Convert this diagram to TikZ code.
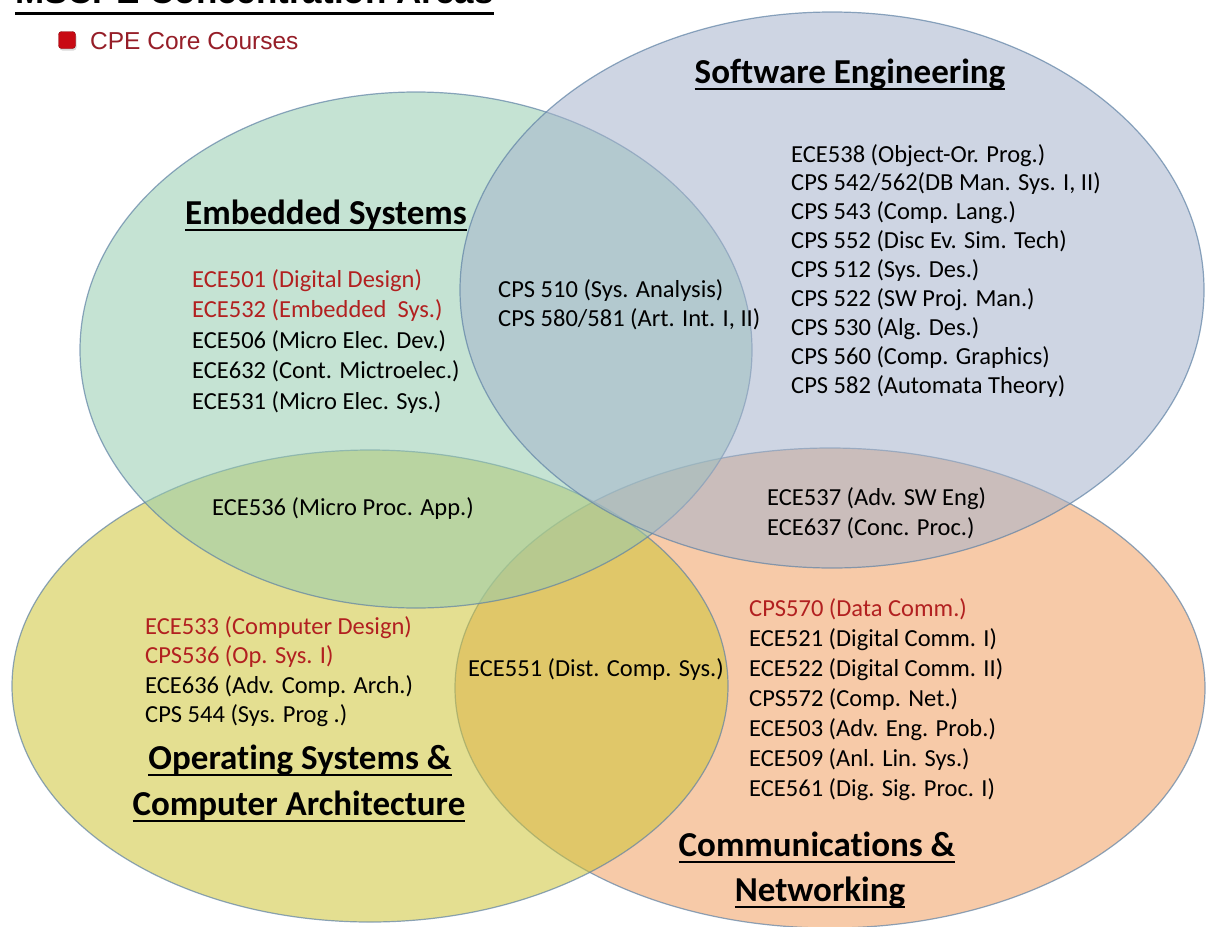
\documentclass[tikz,border=0pt]{standalone}
\usepackage{fontspec}
\setmainfont{Carlito}[Ligatures=NoCommon]
\newfontfamily\arialfont{Liberation Sans}
\usetikzlibrary{shadows}

% fills of the four areas and the edge colour
\definecolor{embfill}{RGB}{150,204,175}
\definecolor{swfill}{RGB}{166,180,204}
\definecolor{osfill}{RGB}{206,197,55}
\definecolor{cnfill}{RGB}{242,160,97}
\definecolor{edgecol}{RGB}{95,130,165}
\definecolor{corered}{RGB}{178,32,32}
\definecolor{legendred}{RGB}{150,30,40}
\definecolor{bulletred}{RGB}{200,10,20}

% text with a rule below it: #1 = depth of the rule's bottom, #2 = thickness
\newsavebox\ulbox
\newcommand\ulined[3]{\sbox\ulbox{#3}\rlap{\usebox\ulbox}\rule[-#1]{\wd\ulbox}{#2}}

\newcommand\coursefont{\fontsize{24.5}{29}\selectfont}
\newcommand\headfont{\fontsize{35}{40}\selectfont\bfseries}
\newcommand\titlefont{\arialfont\fontsize{35}{40}\selectfont\bfseries}
\newcommand\legendfont{\arialfont\fontsize{24.5}{29}\selectfont}

\begin{document}
\begin{tikzpicture}[x=1pt,y=-1pt,
  area/.style={line width=1.2pt, draw=edgecol, draw opacity=0.7, fill opacity=0.55},
  course/.style={anchor=base west, inner sep=0pt, font=\coursefont, text=black},
  core/.style={course, text=corered},
  heading/.style={anchor=base, inner sep=0pt, font=\headfont, text=black},
]
\useasboundingbox (0,0) rectangle (1206,926);
\clip (0,0) rectangle (1206,926);
\fill[white] (0,0) rectangle (1206,926);

% the four concentration areas, bottom to top
\draw[area, fill=cnfill]  (830,688) ellipse [x radius=375pt, y radius=240pt];
\draw[area, fill=osfill]  (370,686) ellipse [x radius=358pt, y radius=236pt];
\draw[area, fill=embfill] (416,350) ellipse [x radius=336pt, y radius=258pt];
\draw[area, fill=swfill]  (832,290) ellipse [x radius=372pt, y radius=278pt];

% title and legend
\node (title) [anchor=base west, inner sep=0pt, font=\titlefont] at (15,3)
  {\ulined{11.5pt}{3pt}{MSCPE Concentration Areas}};
\node (legbullet) [rectangle, rounded corners=3pt, minimum size=17pt, inner sep=0pt,
  fill=bulletred, draw=bulletred!70!black,
  drop shadow={opacity=0.3, shadow xshift=1pt, shadow yshift=-2pt}] at (67,40) {};
\node (legend) [anchor=base west, inner sep=0pt, font=\legendfont, text=legendred]
  at (90,49) {CPE Core Courses};

% headings
\node (hemb) [heading] at (326,224) {\ulined{7pt}{2pt}{Embedded Systems}};
\node (hsw)  [heading] at (850,83)  {\ulined{7pt}{2pt}{Software Engineering}};
\node (hos1) [heading] at (300,769) {\ulined{7pt}{2pt}{Operating Systems \&}};
\node (hos2) [heading] at (299,815) {\ulined{7pt}{2pt}{Computer Architecture}};
\node (hcn1) [heading] at (817,856) {\ulined{7pt}{2pt}{Communications \&}};
\node (hcn2) [heading] at (820,901) {\ulined{7pt}{2pt}{Networking}};

% Embedded Systems
\foreach \s/\t [count=\i from 0] in {
  core/{ECE501 (Digital Design)},
  core/{ECE532 (Embedded\ \ Sys.)},
  course/{ECE506 (Micro Elec. Dev.)},
  course/{ECE632 (Cont. Mictroelec.)},
  course/{ECE531 (Micro Elec. Sys.)}}
  \node (emb\i) [\s] at (192,287+30.5*\i) {\t};

% Embedded Systems and Software Engineering
\node (es0) [course] at (498,297) {CPS 510 (Sys. Analysis)};
\node (es1) [course] at (498,326) {CPS 580/581 (Art. Int. I, II)};

% Software Engineering
\foreach \t [count=\i from 0] in {
  {ECE538 (Object-Or. Prog.)},
  {CPS 542/562(DB Man. Sys. I, II)},
  {CPS 543 (Comp. Lang.)},
  {CPS 552 (Disc Ev. Sim. Tech)},
  {CPS 512 (Sys. Des.)},
  {CPS 522 (SW Proj. Man.)},
  {CPS 530 (Alg. Des.)},
  {CPS 560 (Comp. Graphics)},
  {CPS 582 (Automata Theory)}}
  \node (sw\i) [course] at (791,162+28.9*\i) {\t};

% Embedded Systems and Operating Systems
\node (eo0) [course] at (212,515) {ECE536 (Micro Proc. App.)};

% Software Engineering and Communications
\node (sc0) [course] at (767,505) {ECE537 (Adv. SW Eng)};
\node (sc1) [course] at (767,535) {ECE637 (Conc. Proc.)};

% Operating Systems & Computer Architecture
\foreach \s/\t [count=\i from 0] in {
  core/{ECE533 (Computer Design)},
  core/{CPS536 (Op. Sys. I)},
  course/{ECE636 (Adv. Comp. Arch.)},
  course/{CPS 544 (Sys. Prog .)}}
  \node (os\i) [\s] at (145,634+29.5*\i) {\t};

% Operating Systems and Communications
\node (oc0) [course] at (468,676) {ECE551 (Dist. Comp. Sys.)};

% Communications & Networking
\foreach \s/\t [count=\i from 0] in {
  core/{CPS570 (Data Comm.)},
  course/{ECE521 (Digital Comm. I)},
  course/{ECE522 (Digital Comm. II)},
  course/{CPS572 (Comp. Net.)},
  course/{ECE503 (Adv. Eng. Prob.)},
  course/{ECE509 (Anl. Lin. Sys.)},
  course/{ECE561 (Dig. Sig. Proc. I)}}
  \node (cn\i) [\s] at (749,616+30*\i) {\t};
\end{tikzpicture}
\end{document}
